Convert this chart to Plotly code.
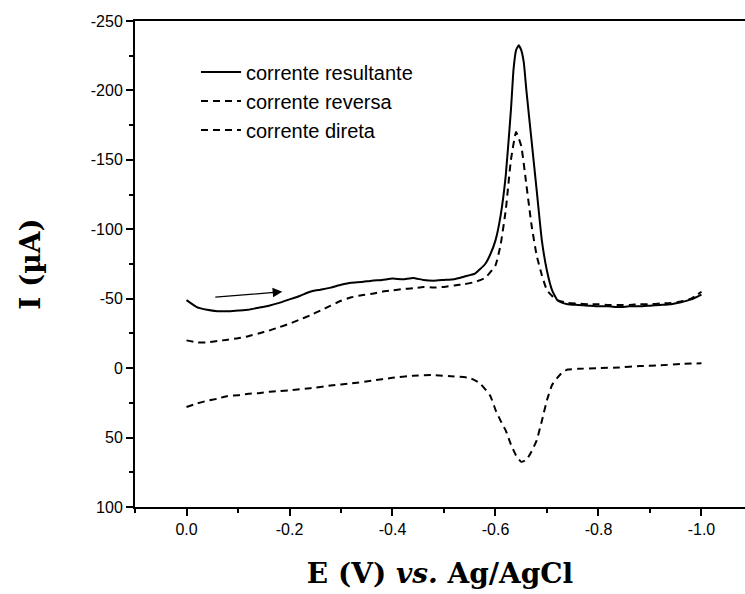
import plotly.graph_objects as go

# ---- data (E in V, I in µA) ----
x_res = [0.0, -0.02, -0.04, -0.06, -0.08, -0.10, -0.12, -0.14, -0.16, -0.18,
         -0.20, -0.22, -0.24, -0.26, -0.28, -0.30, -0.32, -0.34, -0.36, -0.38,
         -0.40, -0.42, -0.44, -0.46, -0.48, -0.50, -0.52, -0.54, -0.56, -0.58,
         -0.59, -0.60, -0.61, -0.62, -0.63, -0.635, -0.64, -0.645, -0.65, -0.655,
         -0.66, -0.67, -0.68, -0.69, -0.70, -0.71, -0.72, -0.73, -0.74, -0.76,
         -0.78, -0.80, -0.82, -0.84, -0.86, -0.88, -0.90, -0.92, -0.94, -0.96,
         -0.98, -1.0]
y_res = [-49, -44, -42, -41, -41, -41.5, -42, -43.5, -45, -47,
         -49.5, -52, -55, -56.5, -58, -60, -61.5, -62, -63, -63.5,
         -64.5, -64, -65, -63.5, -63, -63.5, -64, -66, -68, -75,
         -82, -92, -110, -139, -186, -215, -229, -232.5, -229, -220,
         -200, -164, -128, -92, -70, -56, -49, -47, -46, -45.5,
         -45, -44.5, -44.5, -44, -44.5, -44.5, -45, -45.5, -46, -47.5,
         -49.5, -53]

x_rev = [0.0, -0.02, -0.04, -0.06, -0.08, -0.10, -0.12, -0.14, -0.16, -0.18,
         -0.20, -0.22, -0.24, -0.26, -0.28, -0.30, -0.32, -0.34, -0.36, -0.38,
         -0.40, -0.42, -0.44, -0.46, -0.48, -0.50, -0.52, -0.54, -0.56, -0.58,
         -0.60, -0.61, -0.62, -0.63, -0.64, -0.65, -0.66, -0.67, -0.68, -0.69,
         -0.70, -0.71, -0.72, -0.74, -0.76, -0.78, -0.80, -0.82, -0.84, -0.86,
         -0.88, -0.90, -0.92, -0.94, -0.96, -0.98, -1.0]
y_rev = [-20, -18.5, -18.5, -19.5, -20.5, -21.5, -23, -25, -27, -29.5,
         -32, -35, -38, -41.5, -45, -48.5, -51, -52.5, -53.5, -55,
         -56, -57, -57.5, -58.5, -58, -58.5, -59.5, -60.5, -62, -65,
         -74, -89, -114, -150, -170, -160, -132, -103, -81, -67,
         -56, -52, -49, -47, -46.5, -46, -46, -45.5, -45.5, -45.5,
         -46, -46, -46.5, -47, -48, -50, -55]

x_dir = [0.0, -0.02, -0.04, -0.06, -0.08, -0.10, -0.12, -0.14, -0.16, -0.18,
         -0.20, -0.24, -0.28, -0.32, -0.36, -0.40, -0.44, -0.48, -0.52, -0.55,
         -0.57, -0.59, -0.60, -0.61, -0.62, -0.63, -0.64, -0.65, -0.66, -0.67,
         -0.68, -0.69, -0.70, -0.71, -0.72, -0.73, -0.74, -0.76, -0.80, -0.84,
         -0.88, -0.92, -0.96, -1.0]
y_dir = [28, 25.5, 23.5, 22, 20, 19.5, 18.5, 18, 17, 16.5,
         16, 14.5, 12.5, 11, 9, 7, 5.5, 5, 6, 7,
         11, 20, 30, 38, 45, 55, 63, 67.5, 66, 60,
         52, 38, 23, 12, 7, 3, 1, 0.5, 0, -0.5,
         -1.5, -2, -3, -3.5]

names = ["corrente resultante", "corrente reversa", "corrente direta"]
x_ticks = [0.0, -0.2, -0.4, -0.6, -0.8, -1.0]
x_ticklabels = ["0.0", "-0.2", "-0.4", "-0.6", "-0.8", "-1.0"]
y_ticks = [-250, -200, -150, -100, -50, 0, 50, 100]
y_ticklabels = ["-250", "-200", "-150", "-100", "-50", "0", "50", "100"]
arrow_start = (-0.053, -51)
arrow_end = (-0.186, -55)

fig = go.Figure()
fig.add_trace(go.Scatter(x=x_res, y=y_res, mode="lines", name=names[0],
                         line=dict(color="black", width=2, shape="spline", smoothing=0.4)))
fig.add_trace(go.Scatter(x=x_rev, y=y_rev, mode="lines", name=names[1],
                         line=dict(color="black", width=2, dash="7px,5px", shape="spline", smoothing=0.4)))
fig.add_trace(go.Scatter(x=x_dir, y=y_dir, mode="lines", name=names[2],
                         line=dict(color="black", width=2, dash="7px,5px", shape="spline", smoothing=0.4)))

fig.add_annotation(x=arrow_end[0], y=arrow_end[1], ax=arrow_start[0], ay=arrow_start[1],
                   xref="x", yref="y", axref="x", ayref="y", text="",
                   showarrow=True, arrowhead=2, arrowsize=1.6, arrowwidth=1.2,
                   arrowcolor="black")

tickfont = dict(family="Liberation Sans, Arial, sans-serif", size=16, color="black")
titlefont = dict(family="DejaVu Serif", size=28, color="black")

fig.update_layout(
    width=745, height=594,
    margin=dict(l=135, r=0, t=21, b=87),
    plot_bgcolor="white", paper_bgcolor="white",
    showlegend=True,
    legend=dict(x=0.10, y=0.935, xanchor="left", yanchor="top",
                font=dict(family="Liberation Sans, Arial, sans-serif", size=20, color="black"),
                bgcolor="rgba(0,0,0,0)", tracegroupgap=0, itemwidth=40),
    xaxis=dict(range=[0.1, -1.0845], tickvals=x_ticks, ticktext=x_ticklabels,
               showline=True, linecolor="black", linewidth=2, mirror=True,
               ticks="outside", ticklen=7, tickwidth=2, tickcolor="black",
               minor=dict(dtick=0.1, tick0=0, ticks="outside", ticklen=4, tickwidth=2, tickcolor="black"),
               showgrid=False, zeroline=False, tickfont=tickfont,
               title=dict(text="<b>E (V) <i>vs.</i> Ag/AgCl</b>", font=titlefont, standoff=26)),
    yaxis=dict(range=[100, -250], tickvals=y_ticks, ticktext=y_ticklabels,
               showline=True, linecolor="black", linewidth=2, mirror=False,
               ticks="outside", ticklen=7, tickwidth=2, tickcolor="black",
               minor=dict(dtick=25, tick0=0, ticks="outside", ticklen=4, tickwidth=2, tickcolor="black"),
               showgrid=False, zeroline=False, tickfont=tickfont,
               title=dict(text="<b>I (µA)</b>", font=titlefont, standoff=42)),
)

fig.write_html("out.html")
